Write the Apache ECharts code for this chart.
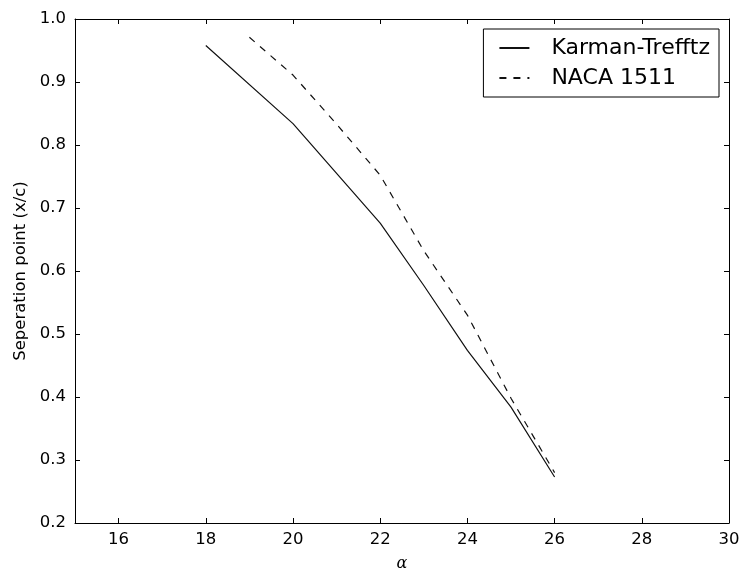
<!DOCTYPE html>
<html>
<head>
<meta charset="utf-8">
<script src="https://cdn.jsdelivr.net/npm/echarts@6/dist/echarts.min.js"></script>
<style>html,body{margin:0;padding:0;background:#fff}#c{width:739px;height:572px}</style>
</head>
<body>
<div id="c"></div>
<script>
var karmanAlpha = [18, 20, 22, 23, 24, 25, 26];
var karmanSep = [0.958, 0.834, 0.676, 0.577, 0.474, 0.384, 0.273];
var nacaAlpha = [19, 20, 21, 22, 23, 24, 25, 26];
var nacaSep = [0.971, 0.911, 0.833, 0.752, 0.632, 0.53, 0.398, 0.28];
var xTicks = [16, 18, 20, 22, 24, 26, 28, 30];
var yTicks = [0.2, 0.3, 0.4, 0.5, 0.6, 0.7, 0.8, 0.9, 1.0];

function pairs(xs, ys) { return xs.map(function (x, i) { return [x, ys[i]]; }); }

var font = 'DejaVu Sans';
var chart = echarts.init(document.getElementById('c'));
var axLine = { show: true, lineStyle: { color: '#000', width: 1 } };
function tick(vals) {
  return { show: true, inside: true, length: 5, customValues: vals, lineStyle: { color: '#000' } };
}
chart.setOption({
  animation: false,
  grid: { left: 75, right: 10, top: 19, bottom: 49, containLabel: false, outerBoundsMode: 'none' },
  xAxis: [{
    type: 'value', min: 15, max: 30, interval: 1,
    name: 'α', nameLocation: 'middle', nameGap: 33,
    nameTextStyle: { fontFamily: 'DejaVu Serif', fontStyle: 'italic', fontSize: 16, color: '#000' },
    axisLine: axLine,
    axisTick: tick(xTicks), splitLine: { show: false },
    axisLabel: { fontFamily: font, fontSize: 16.5, color: '#000', margin: 8, customValues: xTicks,
      showMaxLabel: true, hideOverlap: false }
  }, {
    type: 'value', min: 15, max: 30, interval: 1, position: 'top',
    axisLine: axLine, axisTick: tick(xTicks), axisLabel: { show: false }, splitLine: { show: false }
  }],
  yAxis: [{
    type: 'value', min: 0.2, max: 1.0, interval: 0.1,
    name: 'Seperation point (x/c)', nameLocation: 'middle', nameGap: 44,
    nameTextStyle: { fontFamily: font, fontSize: 16.5, color: '#000' },
    axisLine: axLine, axisTick: tick(yTicks), splitLine: { show: false },
    axisLabel: { fontFamily: font, fontSize: 16.5, color: '#000', margin: 9,
      formatter: function (v) { return v.toFixed(1); } }
  }, {
    type: 'value', min: 0.2, max: 1.0, interval: 0.1, position: 'right',
    axisLine: axLine, axisTick: tick(yTicks), axisLabel: { show: false }, splitLine: { show: false }
  }],
  legend: {
    right: 20, top: 29, orient: 'vertical', align: 'left',
    backgroundColor: '#fff', borderColor: '#000', borderWidth: 1,
    padding: [8, 9, 8, 15], itemGap: 8,
    itemWidth: 30, itemHeight: 20,
    itemStyle: { color: 'rgba(0,0,0,0)', borderWidth: 0, borderColor: 'rgba(0,0,0,0)' },
    textStyle: { fontFamily: font, fontSize: 22, color: '#000', padding: [0, 0, 0, 17] },
    data: ['Karman-Trefftz', 'NACA 1511']
  },
  series: [{
    name: 'Karman-Trefftz', type: 'line', data: pairs(karmanAlpha, karmanSep),
    showSymbol: false, symbol: 'none',
    lineStyle: { color: '#111', width: 1.2, type: 'solid' }, itemStyle: { color: '#111' }
  }, {
    name: 'NACA 1511', type: 'line', data: pairs(nacaAlpha, nacaSep),
    showSymbol: false, symbol: 'none',
    lineStyle: { color: '#111', width: 1.2, type: [7, 7] }, itemStyle: { color: '#111' }
  }]
});
</script>
</body>
</html>
